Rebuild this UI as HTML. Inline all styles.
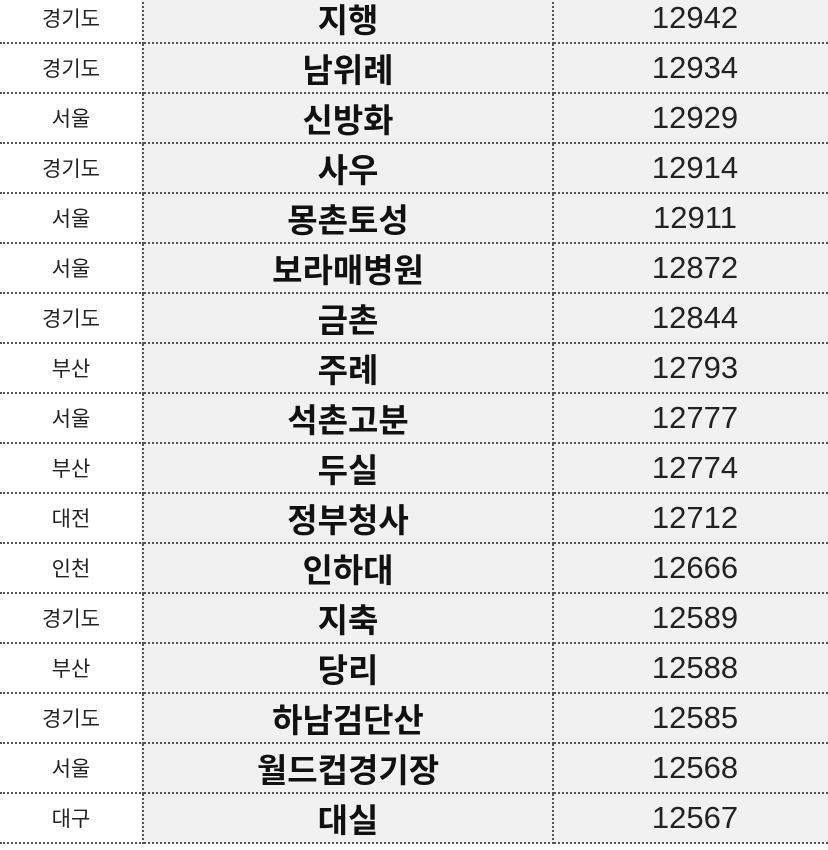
<!DOCTYPE html>
<html><head><meta charset="utf-8"><style>
body{margin:0;width:828px;height:850px;overflow:hidden;background:#fff;font-family:"Liberation Sans","Noto Sans CJK KR",sans-serif}
.t{position:absolute;left:0;top:-6px;border-collapse:collapse;table-layout:fixed;width:836px}
td{height:48px;padding:0;text-align:center;vertical-align:middle;border-bottom:2px dotted #555;border-right:2px dotted #555}
td.r{background:#fff;font-size:21px;color:#222}
td.n{background:#f1f1f1;font-size:33px;font-weight:bold;color:#111}
td.v{background:#f1f1f1;font-size:31px;color:#222;border-right:none}
</style></head><body>
<table class="t">
<colgroup><col style="width:143px"><col style="width:410px"><col style="width:283px"></colgroup>
<tbody id="tb"></tbody></table>
<script>
const regions=["경기도","경기도","서울","경기도","서울","서울","경기도","부산","서울","부산","대전","인천","경기도","부산","경기도","서울","대구"];
const names=["지행","남위례","신방화","사우","몽촌토성","보라매병원","금촌","주례","석촌고분","두실","정부청사","인하대","지축","당리","하남검단산","월드컵경기장","대실"];
const values=[12942,12934,12929,12914,12911,12872,12844,12793,12777,12774,12712,12666,12589,12588,12585,12568,12567];
const tb=document.getElementById('tb');
for(let i=0;i<names.length;i++){
const tr=document.createElement('tr');


const a=document.createElement('td');a.className='r';a.textContent=regions[i];


const b=document.createElement('td');b.className='n';b.textContent=names[i];


const c=document.createElement('td');c.className='v';c.textContent=values[i];


tr.append(a,b,c);tb.appendChild(tr);}
</script>
</body></html>
